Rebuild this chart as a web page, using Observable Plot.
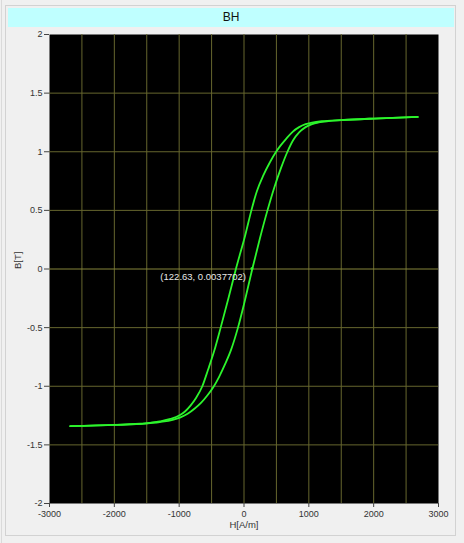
<!DOCTYPE html>
<html>
<head>
<meta charset="utf-8">
<script src="https://cdn.jsdelivr.net/npm/d3@7"></script>
<script src="https://cdn.jsdelivr.net/npm/@observablehq/plot@0.6"></script>
<style>
  html, body { margin: 0; padding: 0; background: #f0f0f0; }
  #wrap { position: relative; width: 464px; height: 543px; background: #f0f0f0; overflow: hidden; }
  #edge { position: absolute; left: 5px; top: 5px; width: 451px; height: 531px; border: 1px solid #d2d2d2; box-sizing: border-box; }
  #edgeL { position: absolute; left: 1px; top: 0; width: 1px; height: 543px; background: #dadada; }
  #title { position: absolute; left: 8px; top: 8px; width: 446px; height: 19px; background: #bfffff;
           font: 12px "Liberation Sans", Arial, sans-serif; color: #111; text-align: center; line-height: 19px; }
  #chart { position: absolute; left: 0; top: 0; }
</style>
</head>
<body>
<div id="wrap">
  <div id="edgeL"></div>
  <div id="edge"></div>
  <div id="chart"></div>
  <div id="title">BH</div>
</div>
<script>
// Descending branch (from +saturation to -saturation)
const descH = [2680, 2000, 1500, 1200, 1050, 950, 850, 750, 650, 560, 495, 400, 300, 200, 114, 20, -125, -240, -360, -460, -555, -643, -740, -825, -910, -1000, -1135, -1300, -1500, -2000, -2680];
const descB = [1.297, 1.283, 1.270, 1.260, 1.248, 1.235, 1.210, 1.170, 1.110, 1.050, 1.0, 0.91, 0.80, 0.665, 0.5, 0.29, 0.0, -0.25, -0.50, -0.70, -0.86, -1.0, -1.10, -1.165, -1.215, -1.250, -1.279, -1.300, -1.316, -1.330, -1.340];
// Ascending branch (from -saturation to +saturation)
const ascH = [-2680, -2100, -1600, -1300, -1100, -980, -870, -760, -660, -560, -464, -380, -290, -200, -93, 0, 128, 245, 362, 470, 570, 670, 760, 850, 950, 1050, 1150, 1300, 1500, 2000, 2680];
const ascB = [-1.340, -1.332, -1.320, -1.305, -1.287, -1.265, -1.235, -1.190, -1.140, -1.075, -1.0, -0.915, -0.81, -0.69, -0.5, -0.30, 0.0, 0.26, 0.50, 0.70, 0.86, 1.0, 1.10, 1.165, 1.210, 1.236, 1.250, 1.261, 1.269, 1.283, 1.297];

const xTicks = [-3000, -2000, -1000, 0, 1000, 2000, 3000];
const xGrid = [-2500, -2000, -1500, -1000, -500, 0, 500, 1000, 1500, 2000, 2500];
const yTicks = [-2, -1.5, -1, -0.5, 0, 0.5, 1, 1.5, 2];
const yGrid = [-1.5, -1, -0.5, 0.5, 1, 1.5];
const marker = [{h: 122.63, b: 0.0037702, label: "(122.63, 0.0037702)"}];

const desc = descH.map((h, i) => ({h, b: descB[i]}));
const asc = ascH.map((h, i) => ({h, b: ascB[i]}));

const chart = Plot.plot({
  width: 464,
  height: 543,
  marginLeft: 49,
  marginRight: 26,
  marginTop: 34,
  marginBottom: 40,
  style: {fontFamily: "'Liberation Sans', Arial, sans-serif", fontSize: "9px", color: "#333", background: "transparent"},
  x: {domain: [-3000, 3000]},
  y: {domain: [-2, 2]},
  marks: [
    Plot.frame({fill: "black"}),
    Plot.ruleX(xGrid, {stroke: "#66662e", strokeWidth: 1}),
    Plot.ruleY(yGrid, {stroke: "#66662e", strokeWidth: 1}),
    Plot.ruleY([0], {stroke: "#85853a", strokeWidth: 1}),
    Plot.line(desc, {x: "h", y: "b", stroke: "#2cf52c", strokeWidth: 1.8, curve: "monotone-x"}),
    Plot.line(asc, {x: "h", y: "b", stroke: "#2cf52c", strokeWidth: 1.8, curve: "monotone-x"}),
    Plot.dot(marker, {x: "h", y: "b", r: 1.5, fill: "#2cf52c"}),
    Plot.text(marker, {x: "h", y: "b", text: "label", fill: "#e8e8e8", textAnchor: "end", dx: -6, dy: 8, fontSize: 9.5}),
    Plot.axisX(xTicks, {tickSize: 4, tickPadding: 3, tickFormat: d => String(d), label: null, stroke: "#444", fill: "#333"}),
    Plot.axisY(yTicks, {tickSize: 5, tickPadding: 2, tickFormat: d => String(d), label: null, stroke: "#444", fill: "#333"}),
    Plot.text(["H[A/m]"], {frameAnchor: "bottom", dy: 24, fill: "#333", fontSize: 9.5}),
    Plot.text(["B[T]"], {frameAnchor: "left", dx: -32, rotate: -90, fill: "#333", fontSize: 9.5})
  ]
});
document.getElementById("chart").appendChild(chart);
</script>
</body>
</html>
